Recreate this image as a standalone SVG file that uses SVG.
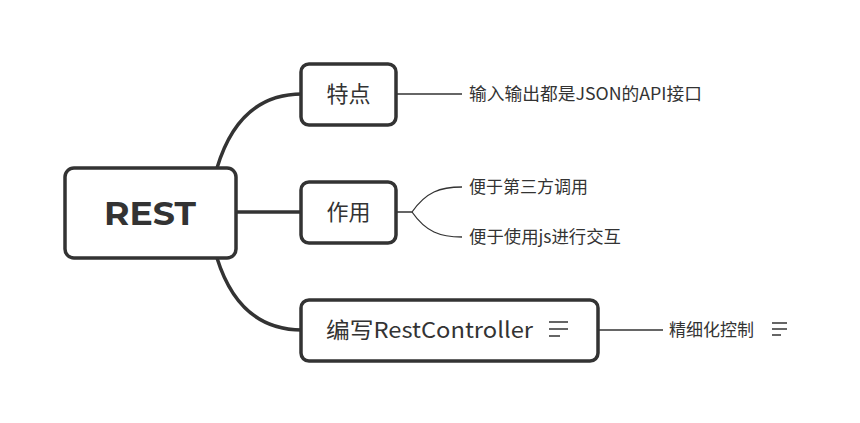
<svg xmlns="http://www.w3.org/2000/svg" width="860" height="423" viewBox="0 0 860 423">
<style>
.box{fill:#fff;stroke:#333;stroke-width:3.5}
.main{stroke:#333;stroke-width:3.5;fill:none}
.thin{stroke:#333;stroke-width:1.3;fill:none}
.t1{font-family:"Noto Sans CJK SC","Noto Sans",sans-serif;font-size:22px;fill:#333}
.t2{font-family:"Noto Sans CJK SC","Noto Sans",sans-serif;font-size:17px;fill:#333}
.icon{stroke:#333;stroke-width:1.5}
</style>
<rect width="860" height="423" fill="#fff"/>
<g id="connectors">
<path class="main" d="M217,168 C232,118 260,94 302,94"/>
<path class="main" d="M236,212 L302,212"/>
<path class="main" d="M217,258 C232,306 260,330 302,330"/>
<path class="thin" d="M396,94 L462,94"/>
<path class="thin" d="M396,212 L412,212 C426,192 440,187 462,187"/>
<path class="thin" d="M412,212 C426,232 440,237 462,237"/>
<path class="thin" d="M598,330 L663,330"/>
</g>
<g id="root">
<rect class="box" x="65" y="168" width="171" height="90" rx="9"/>
<text x="104" y="225" textLength="92" lengthAdjust="spacingAndGlyphs" font-family="Montserrat,'Noto Sans',sans-serif" font-weight="bold" font-size="33" fill="#333">REST</text>
</g>
<g id="n-tedian">
<rect class="box" x="301" y="64" width="95" height="61" rx="8"/>
<text class="t1" x="348.5" y="102" text-anchor="middle">特点</text>
</g>
<g id="n-zuoyong">
<rect class="box" x="301" y="182" width="95" height="61" rx="8"/>
<text class="t1" x="348.5" y="220" text-anchor="middle">作用</text>
</g>
<g id="n-restcontroller">
<rect class="box" x="301" y="300" width="297" height="61" rx="8"/>
<text class="t1" x="326" y="338" textLength="207" lengthAdjust="spacingAndGlyphs">编写RestController</text>
<g class="icon"><line x1="549" y1="322" x2="568" y2="322"/><line x1="549" y1="329" x2="568" y2="329"/><line x1="549" y1="336" x2="560" y2="336"/></g>
</g>
<g id="leaf-json">
<text class="t2" x="469" y="100" textLength="233" lengthAdjust="spacingAndGlyphs">输入输出都是JSON的API接口</text>
</g>
<g id="leaf-third">
<text class="t2" x="469" y="193">便于第三方调用</text>
</g>
<g id="leaf-js">
<text class="t2" x="469" y="243" textLength="152" lengthAdjust="spacingAndGlyphs">便于使用js进行交互</text>
</g>
<g id="leaf-fine">
<text class="t2" x="669" y="336">精细化控制</text>
<g class="icon"><line x1="772" y1="323" x2="787" y2="323"/><line x1="772" y1="329" x2="787" y2="329"/><line x1="772" y1="335" x2="781" y2="335"/></g>
</g>
</svg>
